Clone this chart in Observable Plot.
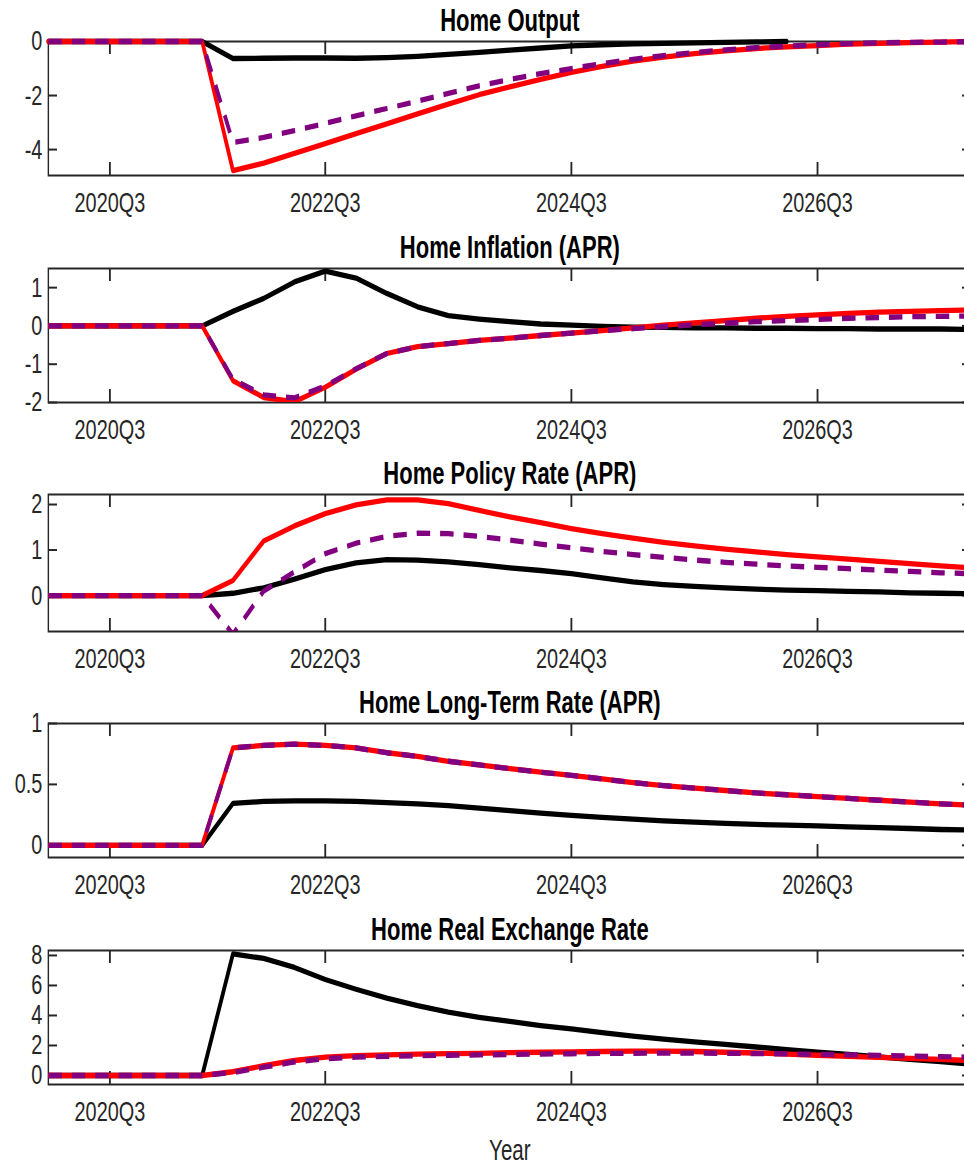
<!DOCTYPE html>
<html>
<head>
<meta charset="utf-8">
<title>Home impulse responses</title>
<script src="https://cdn.jsdelivr.net/npm/d3@7"></script>
<script src="https://cdn.jsdelivr.net/npm/@observablehq/plot@0.6"></script>
<style>
  html, body { margin: 0; padding: 0; background: #fff; overflow: hidden; }
  #figure { width: 964px; height: 1167px; overflow: hidden; background: #fff; }
  /* the whole figure is drawn horizontally condensed, like the narrow MATLAB export */
  #figure svg { display: block; transform: scaleX(0.71); transform-origin: 0 0; }
</style>
</head>
<body>
<div id="figure"></div>
<script>
// Quarter index along the horizontal axis (0 = first quarter shown)
const quarters = d3.range(31);
const tickQuarters = [2, 9, 17, 25];
const tickLabels = ["2020Q3", "2022Q3", "2024Q3", "2026Q3"];

// Home Output
const outputBlack  = [0, 0, 0, 0, 0, 0, -0.63, -0.62, -0.61, -0.61, -0.62, -0.6, -0.55, -0.48, -0.4, -0.32, -0.24, -0.16, -0.12, -0.09, -0.07, -0.05, -0.03, -0.015, 0.0, 0.02, 0.04, 0.05, 0.06, 0.07, 0.07];
const outputRed    = [0, 0, 0, 0, 0, 0, -4.78, -4.5, -4.14, -3.78, -3.41, -3.05, -2.68, -2.32, -1.97, -1.68, -1.4, -1.14, -0.92, -0.73, -0.58, -0.45, -0.35, -0.26, -0.2, -0.15, -0.1, -0.07, -0.04, -0.02, 0];
const outputPurple = [0, 0, 0, 0, 0, 0, -3.74, -3.55, -3.3, -3.03, -2.75, -2.48, -2.21, -1.92, -1.64, -1.4, -1.19, -1.0, -0.82, -0.66, -0.52, -0.41, -0.31, -0.23, -0.17, -0.12, -0.08, -0.05, -0.03, -0.02, -0.01];

// Home Inflation (APR)
const inflationBlack  = [0, 0, 0, 0, 0, 0, 0.38, 0.72, 1.15, 1.43, 1.25, 0.85, 0.5, 0.27, 0.18, 0.11, 0.05, 0.02, -0.01, -0.03, -0.04, -0.05, -0.05, -0.06, -0.06, -0.07, -0.07, -0.08, -0.08, -0.08, -0.09];
const inflationRed    = [0, 0, 0, 0, 0, 0, -1.43, -1.87, -1.98, -1.6, -1.13, -0.72, -0.54, -0.46, -0.38, -0.32, -0.25, -0.19, -0.12, -0.05, 0.02, 0.08, 0.14, 0.2, 0.25, 0.29, 0.33, 0.36, 0.38, 0.4, 0.42];
const inflationPurple = [0, 0, 0, 0, 0, 0, -1.4, -1.8, -1.88, -1.57, -1.12, -0.72, -0.54, -0.46, -0.38, -0.32, -0.25, -0.19, -0.13, -0.07, -0.02, 0.03, 0.07, 0.11, 0.14, 0.17, 0.2, 0.22, 0.24, 0.25, 0.26];

// Home Policy Rate (APR)
const policyBlack  = [0, 0, 0, 0, 0, 0, 0.05, 0.17, 0.36, 0.57, 0.72, 0.79, 0.78, 0.74, 0.68, 0.61, 0.55, 0.48, 0.39, 0.3, 0.24, 0.2, 0.17, 0.14, 0.12, 0.11, 0.09, 0.08, 0.06, 0.05, 0.04];
const policyRed    = [0, 0, 0, 0, 0, 0, 0.33, 1.2, 1.53, 1.8, 1.99, 2.1, 2.1, 2.02, 1.87, 1.73, 1.6, 1.47, 1.36, 1.26, 1.17, 1.09, 1.02, 0.96, 0.9, 0.85, 0.8, 0.75, 0.7, 0.65, 0.61];
const policyPurple = [0, 0, 0, 0, 0, 0, -0.85, 0.1, 0.52, 0.92, 1.15, 1.3, 1.37, 1.36, 1.3, 1.22, 1.13, 1.05, 0.97, 0.9, 0.84, 0.78, 0.73, 0.69, 0.65, 0.62, 0.59, 0.56, 0.53, 0.5, 0.48];

// Home Long-Term Rate (APR)
const longRateBlack  = [0, 0, 0, 0, 0, 0, 0.345, 0.36, 0.365, 0.365, 0.36, 0.35, 0.34, 0.325, 0.305, 0.285, 0.265, 0.245, 0.23, 0.215, 0.2, 0.19, 0.18, 0.172, 0.165, 0.16, 0.152, 0.145, 0.138, 0.13, 0.125];
const longRateRed    = [0, 0, 0, 0, 0, 0, 0.8, 0.82, 0.83, 0.82, 0.8, 0.76, 0.73, 0.69, 0.66, 0.63, 0.6, 0.575, 0.545, 0.515, 0.49, 0.47, 0.45, 0.43, 0.415, 0.4, 0.385, 0.37, 0.355, 0.34, 0.33];
const longRatePurple = [0, 0, 0, 0, 0, 0, 0.8, 0.82, 0.83, 0.82, 0.8, 0.76, 0.73, 0.69, 0.66, 0.63, 0.6, 0.575, 0.545, 0.515, 0.49, 0.47, 0.45, 0.43, 0.415, 0.4, 0.385, 0.37, 0.355, 0.34, 0.33];

// Home Real Exchange Rate
const exchangeBlack  = [0, 0, 0, 0, 0, 0, 8.1, 7.8, 7.2, 6.4, 5.75, 5.15, 4.65, 4.22, 3.88, 3.6, 3.33, 3.1, 2.85, 2.62, 2.42, 2.24, 2.07, 1.9, 1.73, 1.56, 1.4, 1.24, 1.08, 0.92, 0.76];
const exchangeRed    = [0, 0, 0, 0, 0, 0, 0.25, 0.65, 1.0, 1.22, 1.32, 1.38, 1.42, 1.46, 1.48, 1.52, 1.55, 1.57, 1.6, 1.62, 1.62, 1.6, 1.55, 1.5, 1.43, 1.35, 1.28, 1.21, 1.14, 1.07, 1.0];
const exchangePurple = [0, 0, 0, 0, 0, 0, 0.2, 0.55, 0.9, 1.12, 1.22, 1.28, 1.32, 1.35, 1.37, 1.4, 1.43, 1.45, 1.47, 1.48, 1.49, 1.49, 1.48, 1.46, 1.44, 1.41, 1.38, 1.34, 1.3, 1.26, 1.22];

const panelTitles = ["Home Output", "Home Inflation (APR)", "Home Policy Rate (APR)", "Home Long-Term Rate (APR)", "Home Real Exchange Rate"];
const yDomains = [[-4.96, 0], [-2, 1.5], [-0.79, 2.22], [-0.1, 1], [-0.6, 8.33]];
const yTicks = [[-4, -2, 0], [-2, -1, 0, 1], [0, 1, 2], [0, 0.5, 1], [0, 2, 4, 6, 8]];

// layout (vertical pixels are real; horizontal ones are before the 0.71 condensation)
const SX = 0.71;
const W = 1370;
const frameLeft = 48 / SX;
const frameRight = 971 / SX;
const layout = [
  {height: 228, top: 41, frame: 134},
  {height: 227, top: 40, frame: 134},
  {height: 228, top: 39, frame: 137},
  {height: 227, top: 40, frame: 134},
  {height: 257, top: 40, frame: 134}
];

const FONT = "'Liberation Sans', Arial, Helvetica, sans-serif";
const AXIS = "#262626";
const lineStyles = [
  {stroke: "#000000"},
  {stroke: "#ff0000"},
  {stroke: "#800080", strokeDasharray: "19,14", strokeLinecap: "butt"}
];

const panelSeries = [
  [outputBlack, outputRed, outputPurple],
  [inflationBlack, inflationRed, inflationPurple],
  [policyBlack, policyRed, policyPurple],
  [longRateBlack, longRateRed, longRatePurple],
  [exchangeBlack, exchangeRed, exchangePurple]
];

const figure = document.getElementById("figure");

panelTitles.forEach((title, p) => {
  const L = layout[p];
  const frameW = frameRight - frameLeft;
  const lastPanel = p === panelTitles.length - 1;
  const [yMin, yMax] = yDomains[p];
  // when zero sits on the top edge, lines keep their full width there and
  // points above the box are dropped instead of clipping the stroke
  const zeroOnEdge = yMax === 0;

  const marks = [
    Plot.frame({stroke: AXIS, strokeWidth: 2}),
    // inward ticks on all four sides
    Plot.tickX(tickQuarters, {x: d => d, insetTop: L.frame - 13, stroke: AXIS, strokeWidth: 2.6}),
    Plot.tickX(tickQuarters, {x: d => d, insetBottom: L.frame - 13, stroke: AXIS, strokeWidth: 2.6}),
    Plot.tickY(yTicks[p], {y: d => d, insetRight: frameW - 9 / SX, stroke: AXIS, strokeWidth: 2}),
    Plot.tickY(yTicks[p], {y: d => d, insetLeft: frameW - 9 / SX, stroke: AXIS, strokeWidth: 2}),
    Plot.axisX({
      ticks: tickQuarters, tickSize: 0, tickPadding: 17, label: null,
      tickFormat: q => tickLabels[tickQuarters.indexOf(q)],
      fontSize: 28, fill: AXIS
    }),
    Plot.axisY({
      ticks: yTicks[p], tickSize: 0, tickPadding: 8.5, label: null,
      tickFormat: d => String(d),
      fontSize: 28, fill: AXIS
    }),
    ...panelSeries[p].map((values, k) => Plot.line(quarters, {
      x: q => q,
      y: q => (zeroOnEdge && values[q] > yMax ? NaN : values[q]),
      strokeWidth: 5.3,
      clip: !zeroOnEdge,
      ...lineStyles[k]
    })),
    Plot.text([title], {
      text: d => d, frameAnchor: "top", dy: -20.5, lineAnchor: "middle",
      fontWeight: "bold", fontSize: 31, fill: "#000"
    })
  ];
  if (lastPanel) {
    marks.push(Plot.text(["Year"], {
      text: d => d, frameAnchor: "bottom", dy: 66, lineAnchor: "middle",
      fontSize: 29, fill: AXIS
    }));
  }

  const svg = Plot.plot({
    width: W,
    height: L.height,
    marginLeft: frameLeft,
    marginRight: W - frameRight,
    marginTop: L.top,
    marginBottom: L.height - L.top - L.frame,
    x: {domain: [0, 30]},
    y: {domain: yDomains[p]},
    style: `max-width:none;font-family:${FONT};font-size:28px;background:white;overflow:visible;color:${AXIS};`,
    marks
  });
  figure.appendChild(svg);
});
</script>
</body>
</html>
